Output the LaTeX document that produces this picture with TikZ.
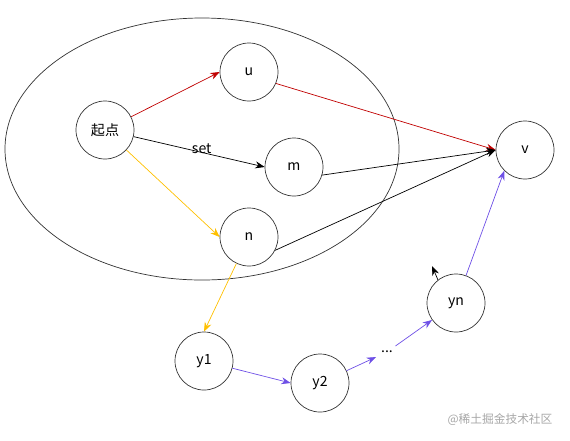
\documentclass[tikz,border=0pt]{standalone}
\usepackage{fontspec}
\setmainfont{Noto Sans CJK SC}
\usetikzlibrary{arrows.meta}

\definecolor{edgered}{RGB}{192,0,0}
\definecolor{edgeyellow}{RGB}{255,192,0}
\definecolor{edgepurple}{RGB}{110,80,230}

\begin{document}
\begin{tikzpicture}[x=0.03cm, y=-0.03cm, line width=0.6pt,
    vertex/.style={draw=black!80, circle, minimum size=1.74cm, inner sep=0pt,
      font=\fontsize{12}{14}\selectfont},
    link/.style={-{Stealth[length=8pt,width=6pt]}}]
      \useasboundingbox (0,0) rectangle (570,440);

      % Big set around the start
      \draw[black!80] (202,149) ellipse [x radius=5.91cm, y radius=3.93cm];

      % Vertices
      \node[vertex] (start) at (105,130) {起点};
      \node[vertex] (u) at (249,72) {u};
      \node[vertex] (m) at (294,167) {m};
      \node[vertex] (n) at (249,237) {n};
      \node[vertex] (v) at (525,150) {v};
      \node[vertex] (y1) at (204,361) {y1};
      \node[vertex] (y2) at (320,383) {y2};
      \node[vertex] (yn) at (456,303) {yn};
      \node[inner sep=4pt, font=\fontsize{12}{14}\selectfont] (dots) at (387,352) {...};
      \coordinate (loose) at (432,266);

      % Edges out of the start
      \draw[link, edgered] (start) -- (u.west);
      \draw[link] (start) -- node[pos=0.52, yshift=3pt, font=\fontsize{12}{14}\selectfont] {set} (m.west);
      \draw[link, edgeyellow] (start) -- (n.west);

      % Edges into v
      \draw[link, edgered] (u.-23) -- (v.west);
      \draw[link] (m.-16) -- (v.west);
      \draw[link] (n.-27) -- (v.west);

      % Path through the y vertices
      \draw[link, edgeyellow] (n) -- (y1.north);
      \draw[link, edgepurple] (y1) -- (y2.west);
      \draw[link, edgepurple] (y2) -- (dots);
      \draw[link, edgepurple] (dots) -- (yn);
      \draw[link, edgepurple] (yn) -- (v.south west);
      \draw[link] (yn.128) -- (loose);

      % Watermark
      \node[text=black!35, font=\fontsize{10}{12}\selectfont] (mark) at (500,420) {@稀土掘金技术社区};
    \end{tikzpicture}
\end{document}
